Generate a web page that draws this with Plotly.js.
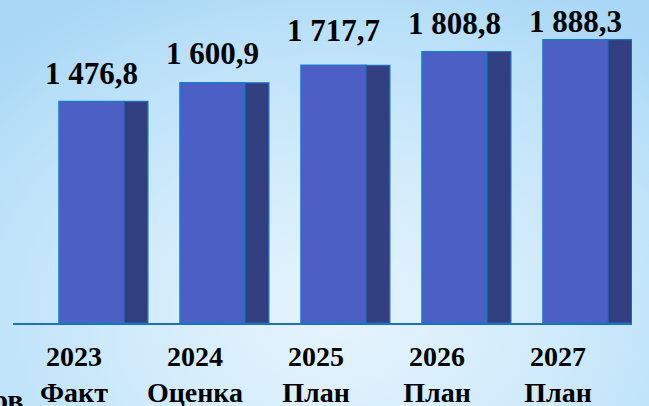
<!DOCTYPE html>
<html>
<head>
<meta charset="utf-8">
<script src="https://cdn.plot.ly/plotly-3.0.1.min.js"></script>
<style>
html,body{margin:0;padding:0;}
body{width:649px;height:406px;overflow:hidden;
background: radial-gradient(ellipse 75% 90% at 52% 78%, #e6f4fd 0%, #d3ecfb 40%, #b9e0f8 80%, #a9d7f5 100%);}
#chart{width:649px;height:406px;}
#chart svg text, #chart svg tspan{font-family:"Liberation Serif", "Times New Roman", serif !important;}
</style>
</head>
<body>
<div id="chart"></div>
<script>
const years = ["2023", "2024", "2025", "2026", "2027"];
const kinds = ["Факт", "Оценка", "План", "План", "План"];
const values = [1476.8, 1600.9, 1717.7, 1808.8, 1888.3];
const valueLabels = ["1 476,8", "1 600,9", "1 717,7", "1 808,8", "1 888,3"];
const cutText = "ов";

const FONT = "Liberation Serif";
const cats = years.map((y, i) => y + "<br>" + kinds[i]);
const labelShift = [8, 10, 15, 9, -1];

const front = {
  type: "bar", x: cats, y: values,
  offset: -0.124, width: 0.537,
  marker: {color: "#4b5fc5", line: {color: "#1f78cf", width: 1.5}},
  hoverinfo: "skip"
};
const side = {
  type: "bar", x: cats, y: values,
  offset: 0.413, width: 0.198,
  marker: {color: "#313e80", line: {color: "#1f6fc2", width: 1.2}},
  hoverinfo: "skip"
};

const annotations = values.map((v, i) => ({
  x: i + 0.1445, y: v, xref: "x", yref: "y",
  text: "<b>" + valueLabels[i] + "</b>", showarrow: false,
  xanchor: "center", yanchor: "bottom", yshift: labelShift[i],
  font: {family: FONT, size: 31, color: "#000"}
}));
annotations.push({
  x: 0, y: 0, xref: "paper", yref: "paper", xanchor: "right", yanchor: "top",
  xshift: 12, yshift: -58, text: "<b>" + cutText + "</b>", showarrow: false,
  font: {family: FONT, size: 30, color: "#000"}
});

const layout = {
  width: 649, height: 406,
  margin: {l: 13, r: 17, t: 0, b: 83},
  paper_bgcolor: "rgba(0,0,0,0)", plot_bgcolor: "rgba(0,0,0,0)",
  barmode: "overlay", showlegend: false,
  font: {family: FONT},
  xaxis: {
    type: "category", range: [-0.504, 4.612],
    showline: true, linecolor: "#1f6fc2", linewidth: 2,
    showgrid: false, zeroline: false, ticks: "", ticklen: 0, ticklabelstandoff: 7,
    tickvals: cats, ticktext: cats.map(c => "<b>" + c.replace("<br>", "</b><br><b>") + "</b>"),
    tickfont: {family: FONT, size: 28, color: "#000"}
  },
  yaxis: {range: [0, 2153], visible: false, showgrid: false, zeroline: false},
  annotations: annotations
};

function forceFont() {
  document.querySelectorAll('#chart svg text').forEach(el => {
    el.style.setProperty('font-family', '"Liberation Serif", "Times New Roman", serif', 'important');
  });
}

Plotly.newPlot("chart", [front, side], layout, {staticPlot: true, displayModeBar: false}).then(() => {
  forceFont();
  requestAnimationFrame(forceFont);
});
</script>
</body>
</html>
